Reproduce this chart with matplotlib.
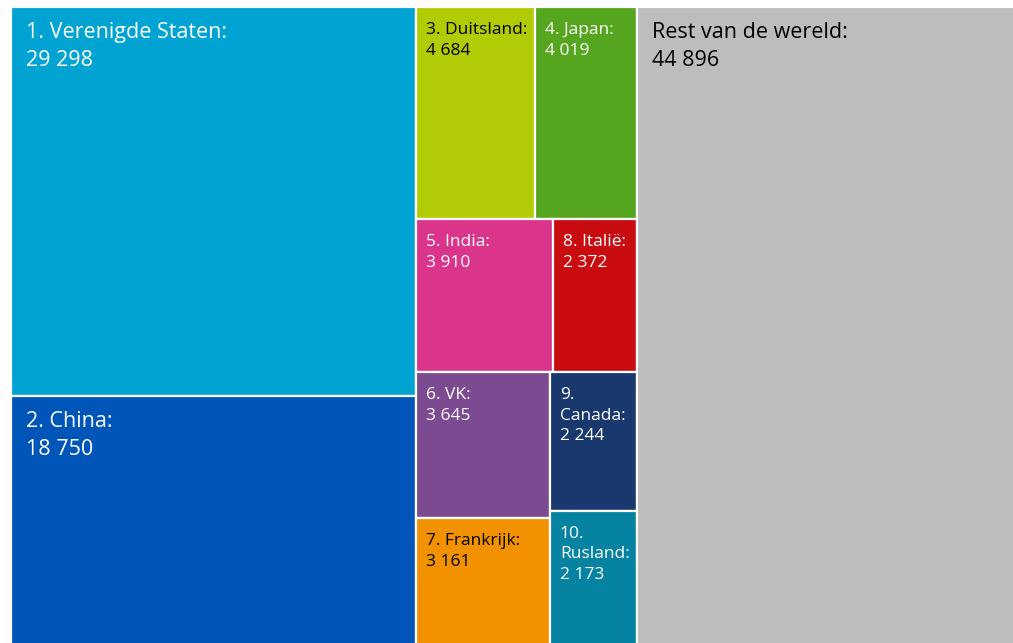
import matplotlib.pyplot as plt
from matplotlib.patches import Rectangle

# emissions per country (values as printed in the treemap)
labels = ['1. Verenigde Staten:', '2. China:', '3. Duitsland:', '4. Japan:',
          '5. India:', '6. VK:', '7. Frankrijk:', '8. Italië:',
          '9.\nCanada:', '10.\nRusland:', 'Rest van de wereld:']
values = [29298, 18750, 4684, 4019, 3910, 3645, 3161, 2372, 2244, 2173, 44896]
colors = ['#00a3d1', '#0055b8', '#b2cb04', '#55a51f', '#db348b', '#7c4a91',
          '#f39200', '#c90c10', '#19396e', '#0583a0', '#bdbdbd']
text_colors = ['white', 'white', 'black', 'white', 'white', 'white',
               'black', 'white', 'white', 'white', 'black']
big = [True, True, False, False, False, False, False, False, False, False, True]

# how the boxes are grouped: (direction, children) ; ints are indices into values
layout = ('h', [
    ('v', [0, 1]),
    ('v', [('h', [2, 3]),
           ('h', [4, 7]),
           ('h', [('v', [5, 6]), ('v', [8, 9])])]),
    10,
])

# drawing area is a bit larger than the picture (cut off right and bottom)
W, H = 1005.0, 638.0


def total(node):
    if isinstance(node, int):
        return values[node]
    return sum(total(c) for c in node[1])


rects = {}


def place(node, x, y, w, h):
    if isinstance(node, int):
        rects[node] = (x, y, w, h)
        return
    d, kids = node
    s = total(node)
    pos = 0.0
    for k in kids:
        f = total(k) / s
        if d == 'h':
            place(k, x + pos * w, y, f * w, h)
        else:
            # top to bottom
            place(k, x, y + h - (pos + f) * h, w, f * h)
        pos += f


place(layout, 0, 0, W, H)

fig = plt.figure(figsize=(10.13, 6.43), dpi=100)
ax = fig.add_axes([10.5 / 1013, -2 / 643, W / 1013, H / 643])
ax.set_xlim(0, W)
ax.set_ylim(0, H)
ax.axis('off')

for i in range(len(values)):
    x, y, w, h = rects[i]
    ax.add_patch(Rectangle((x, y), w, h, facecolor=colors[i],
                           edgecolor='white', linewidth=1.6))
    val = f'{values[i]:,}'.replace(',', ' ')
    if big[i]:
        ax.text(x + 15, y + h - 15, labels[i] + '\n' + val, ha='left', va='top',
                fontsize=15.5, color=text_colors[i], family='Open Sans',
                linespacing=1.45)
    else:
        ax.text(x + 10, y + h - 15, labels[i] + '\n' + val, ha='left', va='top',
                fontsize=12.5, color=text_colors[i], family='Open Sans',
                linespacing=1.4)

fig.savefig('out.png', dpi=100)
